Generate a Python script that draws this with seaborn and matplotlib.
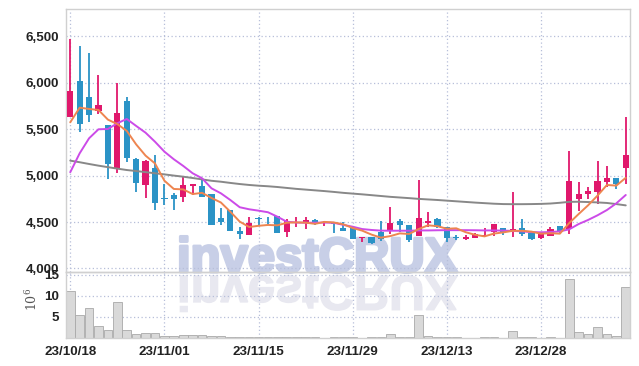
import numpy as np
import pandas as pd
import seaborn as sns
import matplotlib.pyplot as plt
import matplotlib.transforms as mtransforms
import matplotlib.patheffects as pe
from matplotlib.textpath import TextPath
from matplotlib.patches import PathPatch
from matplotlib.font_manager import FontProperties

# Datos: velas diarias (60 sesiones)
open_ = [5636, 6020, 5851, 5700, 5546, 5086, 5805, 5180, 4900, 5080,
         4760, 4792, 4767, 4890, 4889, 4803, 4541, 4630, 4404, 4361,
         4545, 4545, 4566, 4397, 4490, 4490, 4522, 4485, 4490, 4433,
         4450, 4330, 4336, 4393, 4415, 4515, 4472, 4350, 4493, 4533,
         4444, 4335, 4315, 4332, 4345, 4390, 4433, 4397, 4433, 4379,
         4332, 4353, 4458, 4422, 4746, 4800, 4828, 4935, 4975, 5080]
close = [5916, 5557, 5654, 5762, 5129, 5676, 5194, 4925, 5158, 4709,
         4745, 4746, 4900, 4910, 4774, 4472, 4498, 4407, 4372, 4487,
         4538, 4540, 4386, 4515, 4505, 4522, 4478, 4492, 4482, 4407,
         4321, 4338, 4279, 4315, 4490, 4469, 4307, 4544, 4515, 4444,
         4332, 4330, 4336, 4372, 4360, 4480, 4397, 4422, 4369, 4318,
         4369, 4422, 4397, 4943, 4803, 4838, 4943, 4975, 4907, 5223]
high = [6473, 6398, 6322, 6085, 5546, 5996, 5851, 5194, 5169, 5223,
        4907, 4810, 4989, 4915, 4954, 4803, 4649, 4635, 4450, 4558,
        4558, 4555, 4566, 4530, 4552, 4558, 4533, 4510, 4495, 4504,
        4450, 4343, 4336, 4512, 4660, 4530, 4472, 4954, 4606, 4549,
        4444, 4361, 4361, 4380, 4433, 4480, 4433, 4828, 4530, 4379,
        4375, 4450, 4458, 5266, 4928, 4881, 5158, 5108, 4975, 5629]
low = [5630, 5468, 5582, 5661, 4961, 5032, 5151, 4821, 4756, 4630,
       4688, 4630, 4713, 4790, 4770, 4470, 4469, 4405, 4315, 4361,
       4469, 4480, 4386, 4343, 4450, 4422, 4470, 4460, 4380, 4400,
       4315, 4289, 4261, 4300, 4372, 4397, 4286, 4350, 4444, 4440,
       4289, 4305, 4307, 4325, 4340, 4353, 4358, 4336, 4353, 4305,
       4320, 4345, 4372, 4369, 4620, 4746, 4695, 4875, 4853, 4907]

# Volumen (millones)
volume = [11.3, 5.4, 7.2, 2.9, 2.0, 8.6, 1.8, 1.0, 1.3, 1.3,
          0.5, 0.5, 0.8, 0.6, 0.6, 0.55, 0.55, 0.35, 0.35, 0.35,
          0.3, 0.15, 0.35, 0.15, 0.15, 0.15, 0.15, 0.1, 0.15, 0.3,
          0.15, 0.1, 0.15, 0.3, 1.0, 0.3, 0.3, 5.4, 0.55, 0.3,
          0.3, 0.3, 0.1, 0.1, 0.3, 0.3, 0.1, 1.75, 0.3, 0.3,
          0.1, 0.3, 0.1, 14.1, 1.35, 1.0, 2.7, 1.0, 0.55, 12.2]

# Medias moviles
ma5 = [5575, 5733, 5719, 5708, 5604, 5556, 5483, 5337, 5216, 5132,
       4946, 4857, 4852, 4802, 4815, 4760, 4711, 4612, 4505, 4447,
       4460, 4469, 4465, 4493, 4497, 4494, 4481, 4502, 4496, 4476,
       4436, 4408, 4365, 4332, 4349, 4378, 4372, 4425, 4465, 4456,
       4428, 4433, 4391, 4363, 4346, 4376, 4389, 4406, 4406, 4397,
       4375, 4380, 4375, 4490, 4587, 4681, 4785, 4900, 4893, 4977]
ma20 = [5037, 5241, 5403, 5500, 5503, 5565, 5611, 5536, 5463, 5366,
        5259, 5177, 5105, 5026, 4972, 4864, 4810, 4738, 4660, 4638,
        4623, 4606, 4558, 4504, 4495, 4493, 4493, 4495, 4492, 4470,
        4450, 4425, 4415, 4408, 4407, 4407, 4407, 4410, 4410, 4412,
        4413, 4413, 4413, 4412, 4410, 4410, 4408, 4405, 4400, 4392,
        4390, 4393, 4400, 4422, 4479, 4523, 4573, 4630, 4702, 4792]
ma60 = [5162, 5145, 5126, 5108, 5092, 5076, 5061, 5050, 5038, 5026,
        5014, 5001, 4989, 4975, 4960, 4945, 4935, 4922, 4910, 4900,
        4892, 4886, 4878, 4868, 4858, 4850, 4842, 4834, 4825, 4815,
        4807, 4799, 4790, 4781, 4772, 4765, 4758, 4750, 4744, 4738,
        4731, 4724, 4717, 4710, 4704, 4698, 4694, 4693, 4693, 4694,
        4696, 4700, 4708, 4718, 4719, 4716, 4712, 4706, 4694, 4680]

tick_pos = [0, 10, 20, 30, 40, 50]
tick_labels = ["23/10/18", "23/11/01", "23/11/15", "23/11/29", "23/12/13", "23/12/28"]
price_ticks = [4000, 4500, 5000, 5500, 6000, 6500]
vol_ticks = [5, 10, 15]

df = pd.DataFrame({"open": open_, "close": close, "high": high, "low": low,
                   "volume": volume, "ma5": ma5, "ma20": ma20, "ma60": ma60})
df["idx"] = np.arange(len(df))

sns.set_style("white")
plt.rcParams['font.family'] = ['Liberation Sans', 'DejaVu Sans']

UP = "#e0186c"
DOWN = "#2b93c6"
GRID = "#b7bfd9"
SPINE = "#d0d0d0"
WM = "#c8cfe7"
WM_REFL = "#e8e8f0"
W, H = 639, 366

fig = plt.figure(figsize=(W / 100, H / 100), dpi=100)
ax = fig.add_axes([0.1033, 0.2568, 0.8826, 0.7186])
axv = fig.add_axes([0.1033, 0.0765, 0.8826, 0.1803], sharex=ax)
for a in (ax, axv):
    a.patch.set_alpha(0)

# Marca de agua (texto real) + reflejo invertido
wm_size_px = 49.0
wm_x, wm_base = 177, 272
fig.text(wm_x / W, 1 - wm_base / H, "investCRUX", fontsize=wm_size_px * 72 / 100,
         fontweight="bold", family="Liberation Sans", color=WM,
         ha="left", va="baseline", zorder=-5,
         path_effects=[pe.withStroke(linewidth=2.2, foreground=WM)])
fp = FontProperties(family="Liberation Sans", weight="bold")
tp = TextPath((0, 0), "investCRUX", size=wm_size_px, prop=fp)
refl_tr = mtransforms.Affine2D().scale(1, -1).translate(wm_x, H - wm_base - 4)
fig.add_artist(PathPatch(tp, transform=refl_tr, facecolor=WM_REFL, edgecolor=WM_REFL,
                         linewidth=1.1, zorder=-6))

# Velas
cols = np.where(df["close"] >= df["open"], UP, DOWN)
ax.vlines(df["idx"], df["low"], df["high"], colors=cols, linewidth=1.3, zorder=3)
body = np.maximum((df["close"] - df["open"]).abs(), 8)
ax.bar(df["idx"], body, bottom=np.minimum(df["open"], df["close"]), width=0.66,
       color=cols, linewidth=0, zorder=4)

# Medias moviles
sns.lineplot(data=df, x="idx", y="ma60", ax=ax, color="#888888", linewidth=1.4, zorder=5)
sns.lineplot(data=df, x="idx", y="ma20", ax=ax, color="#cc4be8", linewidth=1.4, zorder=5)
sns.lineplot(data=df, x="idx", y="ma5", ax=ax, color="#ee8550", linewidth=1.4, zorder=6)

# Volumen
sns.barplot(data=df, x="idx", y="volume", ax=axv, native_scale=True, color="#d9d9d9",
            saturation=1, edgecolor="#a9a9a9", linewidth=0.6, width=0.92, errorbar=None)

ax.set_xlim(-0.45, 59.45)
ax.set_ylim(3962, 6796)
axv.set_ylim(0, 15.7)

ax.set_yticks(price_ticks)
ax.set_yticklabels([f"{v:,}" for v in price_ticks])
axv.set_yticks(vol_ticks)
axv.set_xticks(tick_pos)
axv.set_xticklabels(tick_labels)
ax.tick_params(labelbottom=False)

for a in (ax, axv):
    a.grid(True, linestyle=(0, (1, 2)), color=GRID, linewidth=0.9)
    a.set_axisbelow(True)
    a.set_xlabel("")
    a.set_ylabel("")
    a.tick_params(length=0, labelsize=9.6, labelcolor="#222222", pad=5)
    for lbl in a.get_xticklabels() + a.get_yticklabels():
        lbl.set_fontweight("bold")
    for s in a.spines.values():
        s.set_color(SPINE)
        s.set_linewidth(1.0)
axv.tick_params(axis="x", pad=6)

axv.text(-0.06, 0.58, r"$10^6$", transform=axv.transAxes, rotation=90,
         ha="center", va="center", fontsize=9, color="#555555", math_fontfamily="dejavuserif")

fig.savefig("out.png", dpi=100)
